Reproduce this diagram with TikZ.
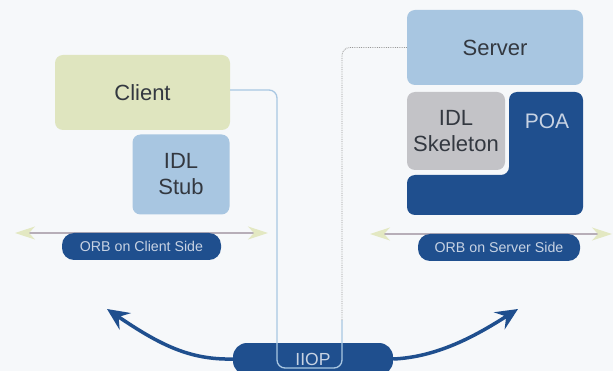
\documentclass[tikz,border=0pt]{standalone}
\usepackage{fontspec}
\setmainfont{Liberation Sans}
\usetikzlibrary{arrows.meta}
\definecolor{bg}{HTML}{F6F8FA}
\definecolor{clientc}{HTML}{DFE5BF}
\definecolor{lightb}{HTML}{A8C6E1}
\definecolor{skel}{HTML}{C3C3C7}
\definecolor{darkb}{HTML}{1F4F8E}
\definecolor{pilltxt}{HTML}{C8D3E3}
\definecolor{boxtxt}{HTML}{333840}
\definecolor{linkc}{HTML}{A9C7E2}
\definecolor{orbline}{HTML}{B7AEB8}
\definecolor{orbhead}{HTML}{E3E8C2}
\tikzset{
  box/.style={rounded corners=8pt, inner sep=0pt, align=center, text=boxtxt,
    font=\fontsize{22}{26}\selectfont},
  pill/.style={rounded corners=12pt, fill=darkb, inner sep=0pt, text=pilltxt,
    font=\fontsize{14.2}{17}\selectfont},
  orb/.style={draw=orbline, line width=1.2pt,
    {Stealth[length=20pt,width=13pt,inset=6pt,fill=orbhead,color=orbhead]}-{Stealth[length=20pt,width=13pt,inset=6pt,fill=orbhead,color=orbhead]}},
  iiopar/.style={draw=darkb, line width=3.5pt,
    -{Stealth[length=22pt,width=20pt,inset=8pt]}},
  link/.style={draw=linkc, line width=1.3pt, rounded corners=8pt},
  dotlink/.style={draw=gray!80, line width=0.8pt, densely dotted, rounded corners=8pt}
}
\begin{document}
\begin{tikzpicture}[x=1pt,y=-1pt]
\fill[bg] (0,0) rectangle (613,371);
\useasboundingbox (0,0) rectangle (613,371);

% client side
\node[box, fill=clientc, minimum width=175pt, minimum height=75pt] (client) at (142.5,92.5) {Client};
\node[box, fill=lightb, minimum width=97pt, minimum height=80pt] (stub) at (181,174.5) {IDL\\Stub};

% server side
\node[box, fill=lightb, minimum width=176pt, minimum height=75pt] (server) at (495,47.5) {Server};
\fill[darkb, rounded corners=8pt] (509,92) -- (583,92) -- (583,215) -- (407,215) -- (407,175) -- (509,175) -- cycle;
\node[text=pilltxt, font=\fontsize{21}{25}\selectfont] (poa) at (547,121) {POA};
\node[box, fill=skel, minimum width=98pt, minimum height=78pt] (skel) at (456,131) {IDL\\Skeleton};

% ORB arrows and pills
\coordinate (ocl) at (15,233);
\coordinate (ocr) at (268,233);
\coordinate (osl) at (370,234);
\coordinate (osr) at (612,234);
\draw[orb] (ocl) -- (ocr);
\draw[orb] (osl) -- (osr);
\node[pill, minimum width=159pt, minimum height=27pt] (orbc) at (141.5,246.5) {ORB on Client Side};
\node[pill, minimum width=162pt, minimum height=27pt] (orbs) at (499,247.5) {ORB on Server Side};

% IIOP
\node[pill, rounded corners=14pt, minimum width=160pt, minimum height=32pt, font=\fontsize{17.5}{20}\selectfont] (iiop) at (313,359) {IIOP};
\coordinate (lt) at (107,309);
\coordinate (rt) at (518,309);
\draw[iiopar] (iiop.west) .. controls (190,360) and (160,345) .. (lt);
\draw[iiopar] (iiop.east) .. controls (440,357) and (480,333) .. (rt);

% connection line
\coordinate (a1) at (277,90);
\coordinate (a2) at (277,368);
\coordinate (a3) at (342,368);
\coordinate (a4) at (342,320);
\coordinate (b1) at (342,47.5);
\draw[link] (client.east |- a1) -- (a1) -- (a2) -- (a3) -- (a4);
\draw[dotlink] (a4) -- (b1) -- (server.west);
\end{tikzpicture}
\end{document}
